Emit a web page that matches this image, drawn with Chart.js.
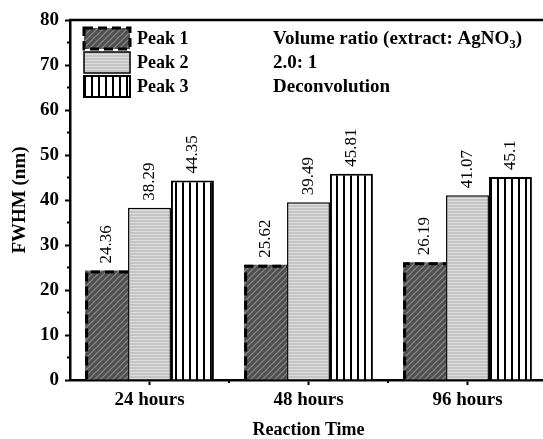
<!DOCTYPE html>
<html>
<head>
<meta charset="utf-8">
<script src="https://cdn.jsdelivr.net/npm/chart.js@4"></script>
<style>
  html, body { margin: 0; padding: 0; background: #fff; overflow: hidden; }
  #wrap { width: 560px; height: 439px; }
</style>
</head>
<body>
<div id="wrap"><canvas id="myChart" width="560" height="439"></canvas></div>
<script>
// data
const categories = ["24 hours", "48 hours", "96 hours"];
const peak1 = [24.36, 25.62, 26.19];
const peak2 = [38.29, 39.49, 41.07];
const peak3 = [44.35, 45.81, 45.1];
const seriesNames = ["Peak 1", "Peak 2", "Peak 3"];
const yTicks = [0, 10, 20, 30, 40, 50, 60, 70, 80];
const noteLines = ["Volume ratio (extract: AgNO", "2.0: 1", "Deconvolution"];

const serif = "'Liberation Serif', 'Times New Roman', serif";

// fill patterns
const makePattern = (kind) => {
  const c = document.createElement("canvas");
  const x = c.getContext("2d");
  if (kind === 1) {
    c.width = 6; c.height = 6;
    x.fillStyle = "#4f4f4f";
    x.fillRect(0, 0, 6, 6);
    x.strokeStyle = "#8c8c8c";
    x.lineWidth = 1.2;
    [[0, 6, 6, 0], [-3, 3, 3, -3], [3, 9, 9, 3]].forEach((l) => {
      x.beginPath(); x.moveTo(l[0], l[1]); x.lineTo(l[2], l[3]); x.stroke();
    });
  } else if (kind === 2) {
    c.width = 4; c.height = 3;
    x.fillStyle = "#c4c4c4";
    x.fillRect(0, 0, 4, 3);
    x.fillStyle = "#dedede";
    x.fillRect(0, 0, 4, 1);
  } else {
    c.width = 7; c.height = 7;
    x.fillStyle = "#ffffff";
    x.fillRect(0, 0, 7, 7);
    x.fillStyle = "#000000";
    x.fillRect(0, 0, 2, 7);
  }
  return x.createPattern(c, "repeat");
};
const ctx0 = document.getElementById("myChart").getContext("2d");
const fills = [makePattern(1), makePattern(2), makePattern(3)];
const borderWidths = [0, 1.5, 2];

// extra drawing: frame, minor ticks, dashed border, labels, legend, note
const extras = {
  id: "extras",
  afterDatasetsDraw(chart) {
    const { ctx, chartArea: a, scales } = chart;
    const ys = scales.y, xs = scales.x;
    ctx.save();
    ctx.strokeStyle = "#000";

    // top frame
    ctx.lineWidth = 2.5;
    ctx.beginPath();
    ctx.moveTo(a.left - 1, a.top);
    ctx.lineTo(a.right + 2, a.top);
    ctx.stroke();

    // minor ticks
    ctx.lineWidth = 2;
    for (let v = 5; v < 80; v += 10) {
      const py = ys.getPixelForValue(v);
      ctx.beginPath(); ctx.moveTo(a.left - 3, py); ctx.lineTo(a.left, py); ctx.stroke();
    }
    for (let i = 0; i < categories.length - 1; i++) {
      const px = xs.getPixelForValue(i + 0.5);
      ctx.beginPath(); ctx.moveTo(px, a.bottom); ctx.lineTo(px, a.bottom + 3); ctx.stroke();
    }

    // dashed border for peak 1
    const m0 = chart.getDatasetMeta(0);
    ctx.lineWidth = 3;
    ctx.setLineDash([9, 5]);
    m0.data.forEach((bar) => {
      const l = bar.x - bar.width / 2 + 1.5, r = bar.x + bar.width / 2;
      ctx.beginPath();
      ctx.moveTo(l, bar.base);
      ctx.lineTo(l, bar.y + 1.5);
      ctx.lineTo(r, bar.y + 1.5);
      ctx.stroke();
    });
    ctx.setLineDash([]);

    // value labels
    ctx.fillStyle = "#000";
    ctx.font = "17px " + serif;
    ctx.textAlign = "left";
    ctx.textBaseline = "middle";
    chart.data.datasets.forEach((ds, di) => {
      chart.getDatasetMeta(di).data.forEach((bar, i) => {
        ctx.save();
        ctx.translate(bar.x, bar.y - 7);
        ctx.rotate(-Math.PI / 2);
        ctx.fillText(String(ds.data[i]), 0, 0);
        ctx.restore();
      });
    });

    // legend
    const lx = a.left + 14, ly = a.top + 8, bw = 46, bh = 21, step = 24;
    ctx.font = "bold 18px " + serif;
    chart.data.datasets.forEach((ds, di) => {
      const y0 = ly + di * step;
      ctx.fillStyle = fills[di];
      ctx.fillRect(lx, y0, bw, bh);
      if (di === 0) {
        ctx.lineWidth = 3;
        ctx.setLineDash([9, 5]);
      } else {
        ctx.lineWidth = borderWidths[di];
      }
      ctx.strokeRect(lx, y0, bw, bh);
      ctx.setLineDash([]);
      ctx.fillStyle = "#000";
      ctx.fillText(ds.label, lx + bw + 7, y0 + bh / 2 + 1);
    });

    // note text
    const nx = a.left + 203;
    noteLines.forEach((t, i) => {
      const ny = ly + i * step + bh / 2 + 1;
      ctx.font = "bold 19px " + serif;
      ctx.fillText(t, nx, ny);
      if (i === 0) {
        let w = ctx.measureText(t).width;
        ctx.font = "bold 13px " + serif;
        ctx.fillText("3", nx + w, ny + 5);
        w += ctx.measureText("3").width;
        ctx.font = "bold 19px " + serif;
        ctx.fillText(")", nx + w, ny);
      }
    });
    ctx.restore();
  },
};

new Chart(ctx0, {
  type: "bar",
  data: {
    labels: categories,
    datasets: [peak1, peak2, peak3].map((d, i) => ({
      label: seriesNames[i],
      data: d,
      backgroundColor: fills[i],
      borderColor: "#000",
      borderWidth: borderWidths[i],
      categoryPercentage: 0.81,
      barPercentage: 1,
    })),
  },
  options: {
    responsive: false,
    animation: false,
    devicePixelRatio: 1,
    layout: { padding: { top: 20, right: 13, left: 0, bottom: 0 } },
    plugins: { legend: { display: false }, tooltip: { enabled: false } },
    scales: {
      x: {
        afterFit: (s) => { s.height = 59; },
        grid: { offset: false, drawOnChartArea: false, tickLength: 5, tickWidth: 2, tickColor: "#000" },
        border: { color: "#000", width: 2.5 },
        ticks: { color: "#000", padding: 4, font: { family: serif, size: 19, weight: "bold" } },
        title: {
          display: true, text: "Reaction Time", color: "#000",
          padding: { top: 0, bottom: 0 },
          font: { family: serif, size: 18, weight: "bold", lineHeight: 1 },
        },
      },
      y: {
        min: 0, max: 80,
        afterFit: (s) => { s.width = 70; },
        afterBuildTicks: (s) => { s.ticks = yTicks.map((v) => ({ value: v })); },
        grid: { drawOnChartArea: false, tickLength: 5, tickWidth: 2, tickColor: "#000" },
        border: { color: "#000", width: 2.5 },
        ticks: { color: "#000", padding: 6, font: { family: serif, size: 19, weight: "bold" } },
        title: {
          display: true, text: "FWHM (nm)", color: "#000",
          padding: { top: 11, bottom: 0 },
          font: { family: serif, size: 19, weight: "bold", lineHeight: 1 },
        },
      },
    },
  },
  plugins: [extras],
});
</script>
</body>
</html>
